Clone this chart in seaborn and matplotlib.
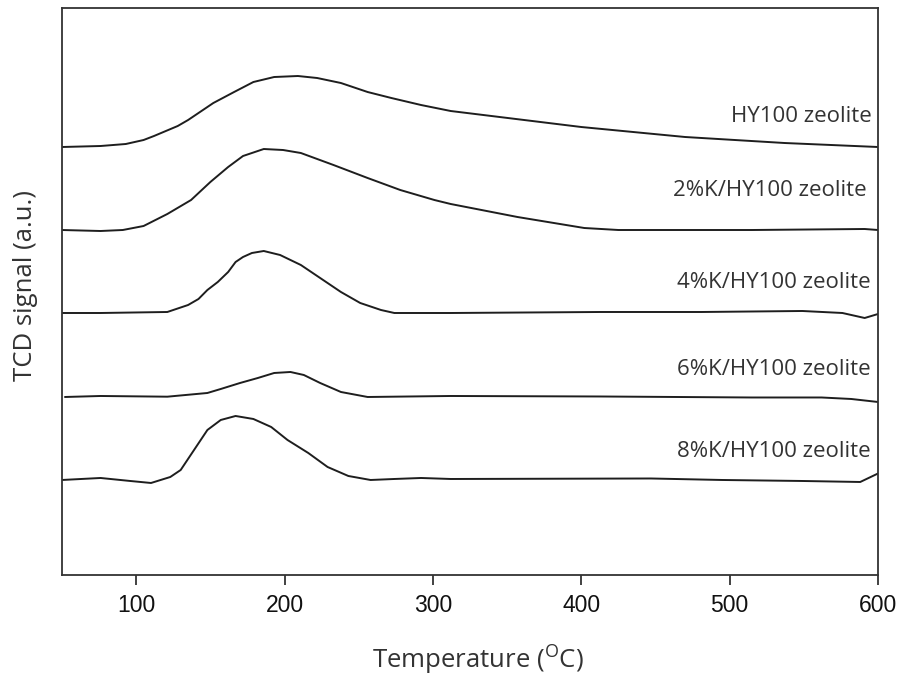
import numpy as np
import pandas as pd
import seaborn as sns
import matplotlib.pyplot as plt

# TPD profiles (temperature in C, signal in arbitrary stacked units)
hy100_t = [50, 76, 93, 105, 112, 128, 135, 143, 152, 166, 179, 193, 209, 222, 238, 256, 272, 292, 312, 400, 470, 537, 600]
hy100_s = [428, 429, 431, 435, 439, 449, 455, 463, 472, 483, 493, 498, 499, 497, 492, 483, 477, 470, 464, 448, 438, 432, 428]

k2_t = [50, 76, 91, 105, 121, 137, 150, 162, 172, 186, 199, 211, 233, 256, 278, 301, 312, 357, 402, 425, 515, 591, 600]
k2_s = [345, 344, 345, 349, 361, 375, 393, 408, 419, 426, 425, 422, 410, 397, 385, 375, 371, 358, 347, 345, 345, 346, 345]

k4_t = [50, 76, 121, 135, 142, 148, 155, 162, 167, 172, 178, 186, 197, 211, 224, 238, 251, 265, 274, 312, 413, 481, 549, 576, 591, 600]
k4_s = [262, 262, 263, 270, 276, 285, 293, 303, 313, 318, 322, 324, 320, 310, 297, 283, 272, 265, 262, 262, 263, 263, 264, 262, 257, 261]

k6_t = [52, 76, 121, 148, 157, 170, 182, 193, 204, 213, 224, 238, 256, 312, 413, 515, 562, 582, 600]
k6_s = [178, 179, 178.3, 182, 186, 192, 197, 202, 203, 200, 192, 183, 178, 179, 178.5, 177.5, 177.5, 176, 173]

k8_t = [50, 76, 96, 110, 123, 130, 139, 148, 157, 167, 179, 191, 202, 216, 229, 243, 258, 274, 292, 312, 447, 495, 549, 588, 600]
k8_s = [95, 97, 94, 92, 98, 105, 125, 145, 155, 159, 156, 148, 135, 122, 108, 99, 95, 96, 97, 96, 96.5, 95, 94, 93, 101.5]

labels = ["HY100 zeolite", "2%K/HY100 zeolite", "4%K/HY100 zeolite",
          "6%K/HY100 zeolite", "8%K/HY100 zeolite"]
label_y = [459, 385, 292, 205, 123]
label_x = [596, 592, 595, 595, 595]

series = [(hy100_t, hy100_s), (k2_t, k2_s), (k4_t, k4_s), (k6_t, k6_s), (k8_t, k8_s)]


def main():
    sns.set_style("ticks")
    plt.rcParams['font.family'] = ['Open Sans', 'DejaVu Sans']

    fig = plt.figure(figsize=(9.01, 6.79), dpi=100)
    ax = fig.add_axes([0.0688, 0.1532, 0.9057, 0.835])

    for (t, s), name in zip(series, labels):
        df = pd.DataFrame({"Temperature": t, "Signal": s})
        sns.lineplot(data=df, x="Temperature", y="Signal", ax=ax, color="#1e1e1e", lw=1.4, sort=False)

    for name, lx, ly in zip(labels, label_x, label_y):
        ax.text(lx, ly, name, ha='right', va='center', fontsize=16, color='#333333')

    ax.set_xlim(50, 600)
    ax.set_ylim(0, 567)
    ax.set_xticks([100, 200, 300, 400, 500, 600])
    ax.set_yticks([])
    for tl in ax.get_xticklabels():
        tl.set_fontfamily('Liberation Sans')
    ax.tick_params(axis='x', direction='out', length=7, width=1.3, colors='#333333', labelsize=16.5, labelcolor='#111111', pad=7)
    for sp in ax.spines.values():
        sp.set_visible(True)
        sp.set_linewidth(1.3)
        sp.set_color('#333333')

    ax.set_xlabel(r'Temperature ($^{\mathregular{O}}$C)', fontsize=18.5, color='#333333')
    ax.set_ylabel('TCD signal (a.u.)', fontsize=18.5, color='#333333')
    ax.xaxis.set_label_coords(0.51, -0.118)
    ax.yaxis.set_label_coords(-0.03, 0.51)

    fig.savefig("out.png", dpi=100)


if __name__ == '__main__':
    main()
